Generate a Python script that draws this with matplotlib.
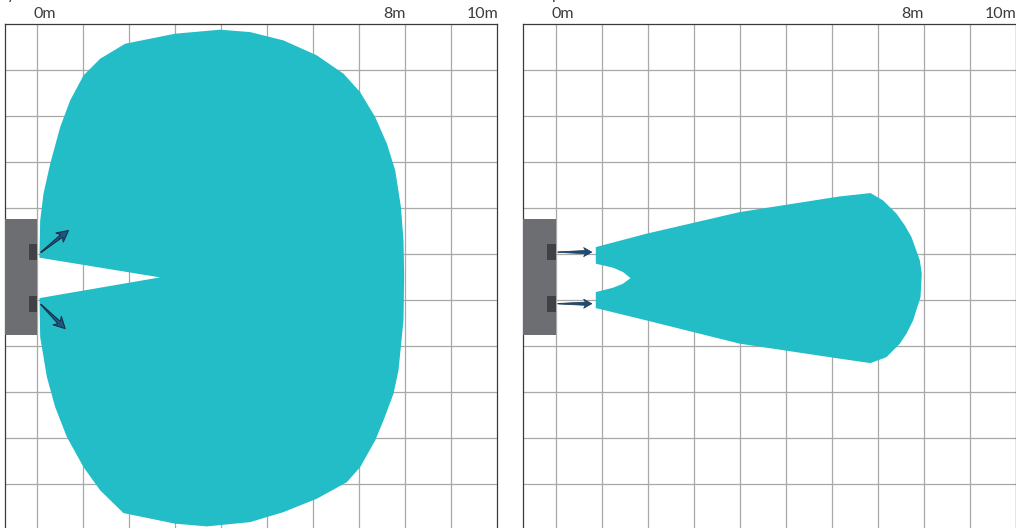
import numpy as np
import matplotlib
matplotlib.use('Agg')
import matplotlib.pyplot as plt
from matplotlib.patches import Polygon, Rectangle

plt.rcParams['font.family'] = ['Lato', 'DejaVu Sans']

# range labels above each panel (metres)
label_text = ['0m', '8m', '10m']
label_pos = [0.16, 7.76, 9.68]

# detection zone outlines, metres (x forward, y sideways)
wide_x = [2.67, 0.05, 0.05, 0.065, 0.137, 0.283, 0.5, 0.717, 1.007, 1.37, 1.913,
          3.0, 3.978, 4.63, 5.354, 6.08, 6.659, 7.02, 7.348, 7.602, 7.783, 7.907, 7.963, 7.978,
          7.963, 7.854, 7.746, 7.528, 7.348, 7.022, 6.733, 6.08, 5.354, 4.63, 3.689, 3.0, 1.876,
          1.37, 1.007, 0.646, 0.391, 0.211, 0.065, 0.05, 0.05]
wide_y = [0.0, 0.428, 0.515, 1.239, 1.82, 2.472, 3.267, 3.848, 4.391, 4.754, 5.08,
          5.298, 5.385, 5.333, 5.152, 4.826, 4.428, 4.028, 3.485, 2.907, 2.326, 1.528, 0.804, 0.04,
          -0.935, -2.022, -2.528, -3.109, -3.543, -4.124, -4.45, -4.811, -5.102, -5.32, -5.413, -5.354, -5.124,
          -4.63, -4.124, -3.472, -2.82, -2.167, -1.298, -0.463, -0.45]

narrow_x = [0.876, 1.978, 4.007, 6.18, 6.848, 7.12, 7.413, 7.594, 7.739, 7.92, 7.963, 7.935, 7.774,
            7.63, 7.485, 7.196, 6.848, 6.18, 4.007, 1.978, 0.876, 0.876, 1.252, 1.47, 1.63,
            1.47, 1.252, 0.876]
narrow_y = [0.659, 0.95, 1.42, 1.761, 1.833, 1.674, 1.385, 1.13, 0.876, 0.37, 0.08, -0.428, -0.935,
            -1.224, -1.441, -1.733, -1.863, -1.767, -1.441, -0.935, -0.667, -0.32, -0.224,
            -0.137, -0.015, 0.115, 0.211, 0.298]

# sensor housing and the two sensor heads
housing = (-0.7, -1.26, 0.7, 2.536)    # x, y, w, h
sensor_y = [0.543, -0.587]
sensor_w, sensor_h = 0.174, 0.348

# beam direction arrows (start, end)
wide_arrows = [((0.08, 0.543), (0.68, 1.02)), ((0.08, -0.587), (0.61, -1.115))]
narrow_arrows = [((0.05, 0.55), (0.79, 0.55)), ((0.05, -0.572), (0.79, -0.572))]

teal = '#22bdc7'
grid_c = '#a8a8a8'
px = 46.0   # pixels per metre


def arrow_poly(p0, p1, head_len, head_w, shaft_w, tail_w=0.006, notch=0.05):
    p0 = np.array(p0); p1 = np.array(p1)
    d = (p1 - p0) / np.hypot(*(p1 - p0))
    n = np.array([-d[1], d[0]])
    base = p1 - d * head_len
    inner = base + d * notch
    pts = [p0 + n * tail_w, inner + n * shaft_w, base + n * head_w, p1,
           base - n * head_w, inner - n * shaft_w, p0 - n * tail_w]
    return np.array(pts)


def setup(ax):
    ax.set_xlim(-0.7, 10)
    ax.set_ylim(-5.5, 5.5)
    ax.set_xticks(range(0, 10))
    ax.set_yticks(np.arange(-4.5, 5.0, 1.0))
    ax.grid(True, color=grid_c, lw=0.9)
    ax.set_axisbelow(True)
    ax.tick_params(length=0, labelbottom=False, labelleft=False)
    for s in ['left', 'top', 'right']:
        ax.spines[s].set_color('#3a3a3a')
        ax.spines[s].set_linewidth(0.9)
    ax.spines['bottom'].set_visible(False)
    for t, x in zip(label_text, label_pos):
        ax.text(x, 1.0117, t, transform=ax.get_xaxis_transform(), ha='center', va='baseline',
                fontsize=11.5, color='#3c3c3c')
    ax.add_patch(Rectangle(housing[:2], housing[2], housing[3], color='#6d6e71', zorder=3, lw=0))
    for sy in sensor_y:
        ax.add_patch(Rectangle((-sensor_w, sy - sensor_h / 2), sensor_w, sensor_h,
                               color='#3f4144', zorder=4, lw=0))


W, H = 1016, 528
fig = plt.figure(figsize=(W / 100, H / 100), dpi=100)
ax_h = 11 * px
top = 24.4
ax1 = fig.add_axes([5 / W, (H - top - ax_h) / H, 10.7 * px / W, ax_h / H])
ax2 = fig.add_axes([523.3 / W, (H - top - ax_h) / H, 10.7 * px / W, ax_h / H])

setup(ax1)
ax1.add_patch(Polygon(np.column_stack([wide_x, wide_y]), closed=True, color=teal, lw=0, zorder=2))
for p0, p1 in wide_arrows:
    ax1.add_patch(Polygon(arrow_poly(p0, p1, 0.25, 0.13, 0.035, notch=0.06), closed=True,
                          facecolor='#1c5588', edgecolor='#1b2a3c', lw=0.7, zorder=5))

setup(ax2)
ax2.add_patch(Polygon(np.column_stack([narrow_x, narrow_y]), closed=True, color=teal, lw=0, zorder=2))
for p0, p1 in narrow_arrows:
    ax2.add_patch(Polygon(arrow_poly(p0, p1, 0.18, 0.1, 0.035, notch=0.04), closed=True,
                          facecolor='#1a4d7e', edgecolor='#1b3550', lw=0.5, zorder=5))

# cut-off panel titles at the very top edge
fig.text(7 / W, 1 + 1.5 / H, 'y', fontsize=11.5, color='#3c3c3c', va='baseline')
fig.text(552 / W, 1 + 1.5 / H, 'p', fontsize=11.5, color='#3c3c3c', va='baseline')

fig.savefig('out.png', dpi=100)
